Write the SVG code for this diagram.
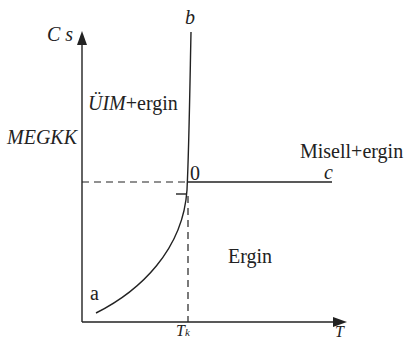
<svg xmlns="http://www.w3.org/2000/svg" width="406" height="340" viewBox="0 0 406 340">
<style>
.i{font-style:italic}
.ln{stroke:#222;stroke-width:1.4;fill:none}
.ds{stroke:#222;stroke-width:1.2;fill:none;stroke-dasharray:7,5}
</style>
<rect width="406" height="340" fill="#fff"/>
<g id="axes">
<line class="ln" x1="82" y1="322" x2="82" y2="42"/>
<polygon points="82,31 77,45 87,45" fill="#222"/>
<line class="ln" x1="82" y1="322" x2="336" y2="322"/>
<polygon points="347,322 333,317 333,327" fill="#222"/>
</g>
<g id="connectors">
<path class="ln" d="M96,313 C140,291 183,250 187,190 C189,150 190,80 191,32"/>
<line class="ln" x1="188" y1="182" x2="332" y2="182"/>
<line class="ln" x1="176" y1="194" x2="187" y2="194"/>
<line class="ds" x1="82" y1="182" x2="188" y2="182"/>
<line class="ds" x1="188" y1="196" x2="188" y2="322"/>
</g>
<g id="labels" font-family="Liberation Serif, DejaVu Serif, serif" font-size="20" fill="#222">
<text class="i" x="47" y="41">C s</text>
<text class="i" x="185" y="24">b</text>
<text x="88" y="110"><tspan class="i">ÜIM</tspan>+ergin</text>
<text class="i" x="7" y="144">MEGKK</text>
<text x="190" y="180">0</text>
<text x="300" y="158">Misell+ergin</text>
<text class="i" x="324" y="179">c</text>
<text x="228" y="263">Ergin</text>
<text x="90" y="300">a</text>
<text class="i" x="176" y="336" font-size="16">T<tspan font-size="11">k</tspan></text>
<text class="i" x="335" y="337" font-size="16">T</text>
</g>
</svg>
